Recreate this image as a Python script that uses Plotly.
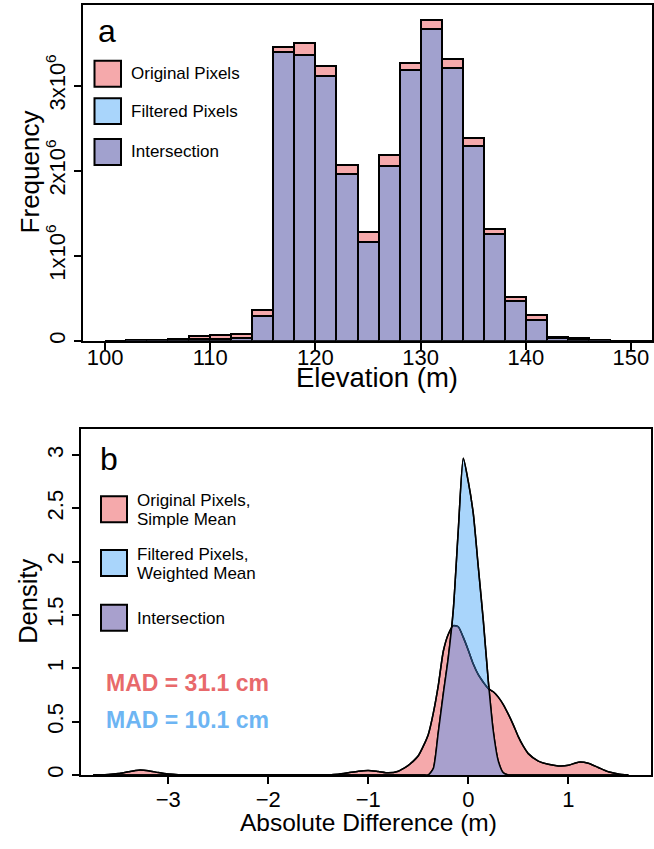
import numpy as np
import plotly.graph_objects as go

W, H = 654, 849

# ---------------- Panel a data ----------------
bin_left = [100, 102, 104, 106, 108, 110, 112, 114, 116, 118, 120, 122, 124, 126,
            128, 130, 132, 134, 136, 138, 140, 142, 144, 146, 148, 150]
orig_counts = [0.003, 0.006, 0.012, 0.02, 0.055, 0.07, 0.08, 0.363, 3.46, 3.50, 3.23, 2.07, 1.28, 2.18,
               3.27, 3.77, 3.32, 2.38, 1.32, 0.52, 0.305, 0.045, 0.03, 0.006, 0.003, 0.002]
filt_counts = [0.002, 0.004, 0.008, 0.012, 0.023, 0.025, 0.03, 0.293, 3.40, 3.36, 3.11, 1.96, 1.16, 2.06,
               3.19, 3.67, 3.21, 2.29, 1.26, 0.465, 0.25, 0.03, 0.012, 0.004, 0.002, 0.001]
x_ticks_a = [100, 110, 120, 130, 140, 150]
y_ticks_a = [0, 1e6, 2e6, 3e6]
y_ticktext_a = ["0", "1x10<sup>6</sup>", "2x10<sup>6</sup>", "3x10<sup>6</sup>"]

# ---------------- Panel b data ----------------
dx = [-3.75, -3.7, -3.6, -3.5, -3.4, -3.3, -3.2, -3.1, -3.0, -2.9, -2.8, -1.4, -1.3, -1.2, -1.1, -1.0,
      -0.9, -0.8, -0.7, -0.65, -0.6, -0.55, -0.5, -0.45, -0.4, -0.35, -0.3, -0.25, -0.2, -0.15, -0.1,
      -0.05, 0.0, 0.05, 0.1, 0.15, 0.2, 0.25, 0.3, 0.35, 0.4, 0.45, 0.5, 0.55, 0.6, 0.7, 0.8, 0.9,
      1.0, 1.1, 1.2, 1.3, 1.4, 1.5, 1.6]
dens_orig = [0.0, 0.001, 0.004, 0.013, 0.03, 0.045, 0.04, 0.022, 0.008, 0.002, 0.0005, 0.0005, 0.006,
             0.02, 0.035, 0.042, 0.032, 0.02, 0.035, 0.06, 0.09, 0.13, 0.18, 0.27, 0.38, 0.58, 0.84,
             1.16, 1.32, 1.40, 1.39, 1.29, 1.17, 1.04, 0.94, 0.87, 0.81, 0.78, 0.73, 0.66, 0.57, 0.47,
             0.36, 0.27, 0.20, 0.13, 0.10, 0.085, 0.09, 0.12, 0.11, 0.07, 0.03, 0.01, 0.0]
dens_filt = [0.0] * 24 + [0.0, 0.06, 0.40, 0.76, 1.10, 1.55, 2.30, 2.97, 2.75, 2.45, 1.95, 1.45,
                          0.88, 0.41, 0.13, 0.02, 0.0] + [0.0] * 14
x_ticks_b = [-3, -2, -1, 0, 1]
y_ticks_b = [0, 0.5, 1, 1.5, 2, 2.5, 3]
y_ticktext_b = ["0", "0.5", "1", "1.5", "2", "2.5", "3"]
mad_texts = ["MAD = 31.1 cm", "MAD = 10.1 cm"]

# ---------------- styling ----------------
FONT = "Liberation Sans, Arial, sans-serif"
PINK = "#F5A9AB"
BLUE = "#A9D5FB"
PURPLE_A = "#A1A1CE"
PURPLE_B = "#A8A0CD"
MAD_RED = "#E8696B"
MAD_BLUE = "#6DB5F3"


def px(x):
    return x / W


def py(y):
    return 1 - y / H


fig = go.Figure()

# ---- histogram ----
centers = [b + 1 for b in bin_left]
o = np.array(orig_counts) * 1e6
f = np.array(filt_counts) * 1e6
inter = np.minimum(o, f)
for vals, col in [(o, PINK), (f, BLUE), (inter, PURPLE_A)]:
    fig.add_trace(go.Bar(x=centers, y=vals, width=2, marker=dict(color=col, line=dict(color="black", width=2)),
                         xaxis="x", yaxis="y", showlegend=False))

# ---- densities ----
dxa = np.array(dx)
do = np.array(dens_orig)
dfl = np.array(dens_filt)
di = np.minimum(do, dfl)
spl = dict(shape="spline", smoothing=0.6)
fig.add_trace(go.Scatter(x=dxa, y=do, mode="lines", fill="tozeroy", fillcolor=PINK,
                         line=dict(color="black", width=1.5, **spl),
                         xaxis="x2", yaxis="y2", showlegend=False))
fig.add_trace(go.Scatter(x=dxa, y=dfl, mode="lines", fill="tozeroy", fillcolor=BLUE,
                         line=dict(color="black", width=1.5, **spl),
                         xaxis="x2", yaxis="y2", showlegend=False))
fig.add_trace(go.Scatter(x=dxa, y=di, mode="lines", fill="tozeroy", fillcolor=PURPLE_B,
                         line=dict(color="rgba(0,0,0,0)", width=0, **spl),
                         xaxis="x2", yaxis="y2", showlegend=False))
fig.add_trace(go.Scatter(x=dxa, y=dfl, mode="lines",
                         line=dict(color="black", width=1.5, **spl),
                         xaxis="x2", yaxis="y2", showlegend=False))
fig.add_trace(go.Scatter(x=dxa, y=do, mode="lines",
                         line=dict(color="black", width=1.5, **spl),
                         xaxis="x2", yaxis="y2", showlegend=False))
mask = (do <= dfl) & (dfl > 0.05)
under = np.where(mask, do, np.nan)
fig.add_trace(go.Scatter(x=dxa, y=under, mode="lines", connectgaps=False,
                         line=dict(color="#1F3F66", width=1.5, **spl),
                         xaxis="x2", yaxis="y2", showlegend=False))

axis_common = dict(showline=True, linecolor="black", linewidth=2, mirror=True, ticks="outside",
                   ticklen=7, tickwidth=2, tickcolor="black", showgrid=False, zeroline=False,
                   tickfont=dict(family=FONT, size=22, color="black"))

fig.update_layout(
    width=W, height=H, margin=dict(l=0, r=0, t=0, b=0), paper_bgcolor="white", plot_bgcolor="white",
    barmode="overlay", bargap=0,
    xaxis=dict(domain=[px(83), px(652)], range=[97.9, 152.0], tickvals=x_ticks_a, anchor="y",
               ticklabelstandoff=-11, **axis_common),
    yaxis=dict(domain=[py(342), py(5)], range=[0, 3.95e6], tickvals=y_ticks_a, ticktext=y_ticktext_a,
               tickangle=-90, anchor="x", **axis_common),
    xaxis2=dict(domain=[px(81), px(651)], range=[-3.873, 1.827], tickvals=x_ticks_b, anchor="y2",
                ticklabelstandoff=-3, **axis_common),
    yaxis2=dict(domain=[py(777.7), py(431)], range=[0, 3.24], tickvals=y_ticks_b, ticktext=y_ticktext_b,
                tickangle=-90, anchor="x2", **axis_common),
)

ann = []
shapes = []


def text(x, y, s, size, color="black", bold=False, xanchor="left", angle=0):
    if bold:
        s = "<b>" + s + "</b>"
    ann.append(dict(x=px(x), y=py(y), xref="paper", yref="paper", text=s, showarrow=False,
                    xanchor=xanchor, yanchor="middle", textangle=angle, align="left",
                    font=dict(family=FONT, size=size, color=color)))


def box(x0, y0, x1, y1, col):
    shapes.append(dict(type="rect", xref="paper", yref="paper", x0=px(x0), x1=px(x1), y0=py(y1), y1=py(y0),
                       fillcolor=col, line=dict(color="black", width=2)))


# axis titles
text(377, 379, "Elevation (m)", 27.5, xanchor="center")
text(30, 173, "Frequency", 26, xanchor="center", angle=-90)
text(368, 825, "Absolute Difference (m)", 24.5, xanchor="center")
text(28, 604, "Density", 25.5, xanchor="center", angle=-90)

# panel labels
text(96, 31, "a", 32)
text(98, 461, "b", 32)

# legend a
for (y0, col, lab) in [(61, PINK, "Original Pixels"), (98.5, BLUE, "Filtered Pixels"), (139.5, PURPLE_A, "Intersection")]:
    box(94.5, y0, 121, y0 + 26, col)
    text(129, y0 + 13, lab, 17)

# legend b
legend_b = [(498, PINK, ["Original Pixels,", "Simple Mean"]),
            (552, BLUE, ["Filtered Pixels,", "Weighted Mean"]),
            (607, PURPLE_B, ["Intersection"])]
for (y0, col, lines) in legend_b:
    box(101, y0, 127, y0 + 26, col)
    if len(lines) == 2:
        text(135, y0 + 4, lines[0], 17)
        text(135, y0 + 23.5, lines[1], 17)
    else:
        text(135, y0 + 14, lines[0], 17)

# MAD
text(104, 685, mad_texts[0], 23, color=MAD_RED, bold=True)
text(104, 723, mad_texts[1], 23, color=MAD_BLUE, bold=True)

fig.update_layout(annotations=ann, shapes=shapes)
fig.write_html("out.html")
